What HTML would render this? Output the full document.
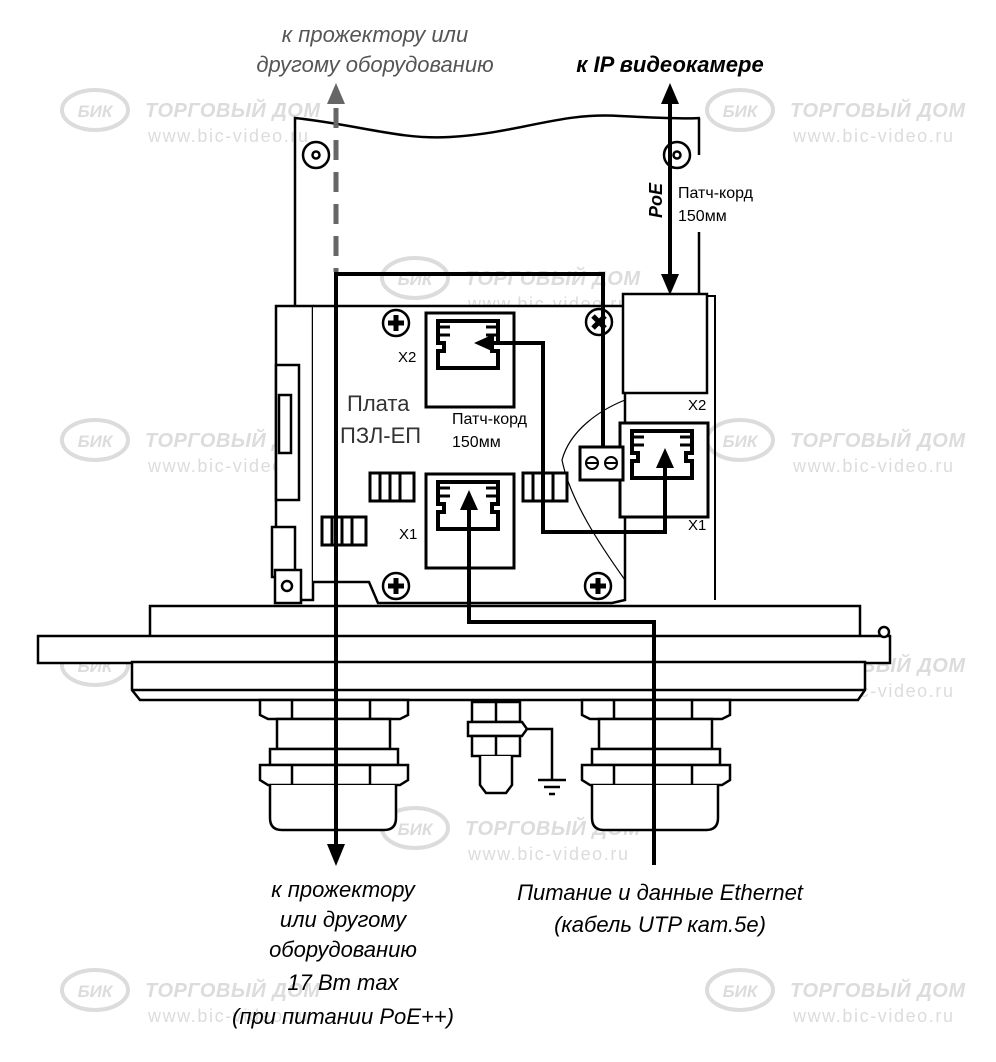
<!DOCTYPE html>
<html><head><meta charset="utf-8"><style>
html,body{margin:0;padding:0;background:#fff}
svg{display:block}
text{font-family:"Liberation Sans",sans-serif}
.wm{fill:#dcdcdc}
.it{font-style:italic;font-size:22px;fill:#000}
</style></head><body>
<svg width="996" height="1062" viewBox="0 0 996 1062">
<defs>
<g id="wm">
<ellipse cx="35" cy="0" rx="33" ry="20" fill="none" stroke="#dcdcdc" stroke-width="4"/>
<text x="35" y="7" text-anchor="middle" class="wm" font-size="17" font-weight="bold" font-style="italic">БИК</text>
<text x="85" y="7" class="wm" font-size="20" font-weight="bold" font-style="italic" textLength="175">ТОРГОВЫЙ ДОМ</text>
<text x="88" y="32" class="wm" font-size="18" textLength="160">www.bic-video.ru</text>
</g>
<g id="jack">
<rect x="0" y="0" width="88" height="94" fill="#fff" stroke="#000" stroke-width="3"/>
<path d="M12 8 H72 V30 H66 V38 H72 V55 H12 V38 H18 V30 H12 Z" fill="none" stroke="#000" stroke-width="4"/>
<path d="M12 14 H24 M12 22 H24 M60 14 H72 M60 22 H72" stroke="#000" stroke-width="3"/>
</g>
<g id="screw"><circle r="13" fill="#fff" stroke="#000" stroke-width="2.5"/><path d="M-8 0H8M0-8V8" stroke="#000" stroke-width="5"/></g>
<g id="coil"><rect x="0" y="0" width="44" height="28" fill="#fff" stroke="#000" stroke-width="3"/><path d="M10 0V28M20 0V28M30 0V28" stroke="#000" stroke-width="3"/></g>
</defs>

<use href="#wm" x="60" y="110"/><use href="#wm" x="705" y="110"/>
<use href="#wm" x="380" y="278"/>
<use href="#wm" x="60" y="440"/><use href="#wm" x="705" y="440"/>
<use href="#wm" x="60" y="665"/><use href="#wm" x="705" y="665"/>
<use href="#wm" x="380" y="828"/>
<use href="#wm" x="60" y="990"/><use href="#wm" x="705" y="990"/>

<g fill="none" stroke="#000" stroke-width="2.5">
<path d="M295 306 V118 C360 125 400 140 450 137 C520 133 560 112 620 116 C660 118 690 119 700 118"/>
<path d="M699 118 V155 M699 232 V296"/>
<circle cx="316" cy="155" r="13"/><circle cx="316" cy="155" r="3.5"/>
<circle cx="677" cy="155" r="13"/><circle cx="677" cy="155" r="3.5"/>
</g>

<g fill="#fff" stroke="#000" stroke-width="2.5">
<path d="M276 306 H313 V600 H276 Z"/>
<rect x="276" y="365" width="23" height="135"/>
<rect x="279" y="395" width="12" height="58"/>
<rect x="272" y="527" width="23" height="50"/>
<rect x="275" y="570" width="26" height="33"/>
<circle cx="287" cy="586" r="5"/>
</g>

<path d="M313 306 H625 V600 L612 603 L378 603 L369 582 H313" fill="#fff" stroke="#000" stroke-width="2.5"/>
<path d="M625 400 C600 410 570 430 562 460 C570 500 600 545 625 580" fill="none" stroke="#000" stroke-width="1.2"/>

<rect x="623" y="294" width="84" height="99" fill="#fff" stroke="#000" stroke-width="2.5"/>
<path d="M707 296 H715 V600" fill="none" stroke="#000" stroke-width="2"/>
<text x="688" y="410" font-size="15">X2</text>

<use href="#screw" x="396" y="323"/>
<use href="#screw" x="396" y="586"/>
<use href="#screw" x="598" y="586"/>
<g><circle cx="599" cy="322" r="13" fill="#fff" stroke="#000" stroke-width="2.5"/><path d="M593 316L605 328M605 316L593 328" stroke="#000" stroke-width="5"/></g>

<use href="#jack" x="426" y="313"/>
<use href="#jack" x="426" y="474"/>
<use href="#jack" x="620" y="423"/>
<text x="398" y="362" font-size="15">X2</text>
<text x="399" y="539" font-size="15">X1</text>
<text x="688" y="530" font-size="15">X1</text>

<use href="#coil" x="370" y="473"/>
<use href="#coil" x="523" y="473"/>
<use href="#coil" x="322" y="517"/>

<rect x="580" y="447" width="43" height="33" fill="#fff" stroke="#000" stroke-width="3"/>
<circle cx="592" cy="463" r="6" fill="none" stroke="#000" stroke-width="2"/>
<circle cx="611" cy="463" r="6" fill="none" stroke="#000" stroke-width="2"/>
<path d="M586 463H598M605 463H617" stroke="#000" stroke-width="2"/>

<text x="347" y="411" font-size="22" fill="#333">Плата</text>
<text x="340" y="443" font-size="22" fill="#333">ПЗЛ-ЕП</text>
<text x="452" y="424" font-size="16">Патч-корд</text>
<text x="452" y="447" font-size="16">150мм</text>

<g fill="#fff" stroke="#000" stroke-width="2.5">
<rect x="150" y="606" width="710" height="31"/>
<rect x="38" y="636" width="852" height="27"/>
<path d="M132 662 H865 V690 L858 700 H140 L132 690 Z"/>
<path d="M132 690 H865"/>
<circle cx="884" cy="632" r="5"/>
</g>

<g fill="#fff" stroke="#000" stroke-width="2.5">
<g id="gl">
<path d="M260 700 V715 L268 719 H400 L408 715 V700 Z"/>
<path d="M292 700 V719 M370 700 V719"/>
<rect x="277" y="719" width="113" height="30"/>
<rect x="270" y="749" width="128" height="16"/>
<path d="M260 765 H408 V780 L400 785 H268 L260 780 Z"/>
<path d="M292 765 V785 M370 765 V785"/>
<path d="M270 785 V818 Q270 830 282 830 H384 Q396 830 396 818 V785"/>
</g>
<use href="#gl" x="322"/>
</g>

<g fill="#fff" stroke="#000" stroke-width="2.5">
<rect x="472" y="702" width="48" height="20"/><path d="M496 702V722"/>
<path d="M468 722 H522 L527 729 L522 736 H468 Z"/>
<rect x="472" y="736" width="48" height="20"/><path d="M496 736V756"/>
<path d="M480 756 V785 L486 793 H506 L512 785 V756"/>
<path d="M527 729 H552 V780" fill="none"/>
<path d="M538 780 H566 M544 787 H560 M549 794 H555" fill="none"/>
</g>

<path d="M336 108 V272" stroke="#666" stroke-width="5" stroke-dasharray="20 12"/>
<path d="M336 83 L327 104 H345 Z" fill="#666"/>

<g fill="none" stroke="#000" stroke-width="4">
<path d="M336 845 V274 H603 V448"/>
<path d="M670 100 V280"/>
<path d="M490 343 H543 V532 H665 V462"/>
<path d="M469 508 V622 H654 V865"/>
</g>
<g fill="#000">
<path d="M336 866 L327 844 H345 Z"/>
<path d="M670 83 L661 104 H679 Z"/>
<path d="M670 295 L661 274 H679 Z"/>
<path d="M474 343 L494 334 V352 Z"/>
<path d="M665 448 L656 468 H674 Z"/>
<path d="M469 490 L460 510 H478 Z"/>
</g>

<text x="375" y="42" class="it" text-anchor="middle" style="fill:#555">к прожектору или</text>
<text x="375" y="72" class="it" text-anchor="middle" style="fill:#555">другому оборудованию</text>
<text x="670" y="72" class="it" text-anchor="middle" font-weight="bold">к IP видеокамере</text>
<text transform="translate(662,218) rotate(-90)" font-size="18" font-weight="bold" font-style="italic">PoE</text>
<text x="678" y="198" font-size="16">Патч-корд</text>
<text x="678" y="221" font-size="16">150мм</text>
<text x="343" y="897" class="it" text-anchor="middle">к прожектору</text>
<text x="343" y="927" class="it" text-anchor="middle">или другому</text>
<text x="343" y="957" class="it" text-anchor="middle">оборудованию</text>
<text x="343" y="990" class="it" text-anchor="middle">17 Вт max</text>
<text x="343" y="1024" class="it" text-anchor="middle">(при питании PoE++)</text>
<text x="660" y="900" class="it" text-anchor="middle">Питание и данные Ethernet</text>
<text x="660" y="932" class="it" text-anchor="middle">(кабель UTP кат.5е)</text>
</svg>
</body></html>
